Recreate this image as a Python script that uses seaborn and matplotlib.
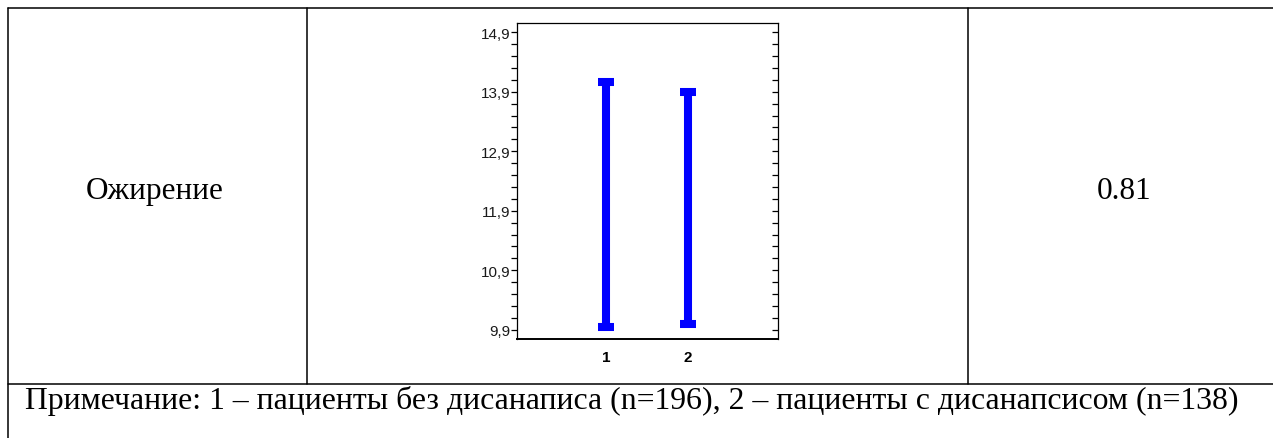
import numpy as np
import pandas as pd
import matplotlib
matplotlib.use("Agg")
import matplotlib.pyplot as plt
import seaborn as sns
from matplotlib.lines import Line2D
from matplotlib.ticker import FixedLocator, FuncFormatter

# ---- data ----
groups = ["1", "2"]
ci_low = [9.94, 10.00]
ci_high = [14.07, 13.90]
row_label = "Ожирение"
p_value = "0.81"
note = "Примечание: 1 – пациенты без дисанаписа (n=196), 2 – пациенты с дисанапсисом (n=138)"
y_ticks = [9.9, 10.9, 11.9, 12.9, 13.9, 14.9]

sns.set_theme(style="white")
plt.rcParams["font.family"] = ["Liberation Sans", "DejaVu Sans"]

W, H, DPI = 1273, 439, 100
fig = plt.figure(figsize=(W / DPI, H / DPI), dpi=DPI)
fig.patch.set_facecolor("white")

def fx(px):
    return px / W

def fy(py):
    return 1 - py / H

# long-form data: the two interval ends per group
df = pd.DataFrame({
    "group": np.repeat(groups, 2),
    "value": np.ravel(np.column_stack([ci_low, ci_high])),
})

ax_l, ax_r, ax_t, ax_b = 517, 778, 24, 340
ax = fig.add_axes([fx(ax_l), fy(ax_b), fx(ax_r - ax_l), (ax_b - ax_t) / H])

sns.pointplot(
    data=df, x="group", y="value", order=groups,
    estimator="mean", errorbar=lambda v: (v.min(), v.max()),
    color="#0000ff", markers="", linestyles="none", capsize=0.2,
    err_kws={"linewidth": 5.8, "solid_capstyle": "butt"}, ax=ax,
)

ax.set_xlim(-1.09, 2.10)
ax.set_ylim(9.745, 15.055)
ax.set_xlabel("")
ax.set_ylabel("")

minor_ticks = [t + d for t in y_ticks[:-1] for d in (0.2, 0.4, 0.6, 0.8)]
ax.yaxis.set_major_locator(FixedLocator(y_ticks))
ax.yaxis.set_minor_locator(FixedLocator(minor_ticks))
ax.yaxis.set_major_formatter(FuncFormatter(lambda v, p: f"{v:.1f}".replace(".", ",")))
ax.tick_params(axis="y", which="both", left=True, right=False, direction="out",
               length=4, width=0.9, color="black", labelsize=11, pad=0.5,
               labelcolor="#1a1a1a")
sec = ax.secondary_yaxis("right")
sec.yaxis.set_major_locator(FixedLocator(y_ticks))
sec.yaxis.set_minor_locator(FixedLocator(minor_ticks))
sec.tick_params(axis="y", which="both", direction="in", length=4.5, width=0.9,
                labelright=False, color="black")
sec.spines["right"].set_visible(False)

ax.tick_params(axis="x", bottom=False, length=0, pad=8)
for lab in ax.get_xticklabels():
    lab.set_fontweight("bold")
    lab.set_fontsize(11)
    lab.set_color("black")

for s in ax.spines.values():
    s.set_visible(True)
    s.set_color("black")
    s.set_linewidth(0.9)
ax.spines["bottom"].set_linewidth(1.4)

# ---- table frame ----
lw = 1.1
top, mid, left = 8.5, 385, 8
vlines = [307, 968]
fig.add_artist(Line2D([fx(left), fx(W)], [fy(top), fy(top)], color="black", lw=lw))
fig.add_artist(Line2D([fx(left), fx(W)], [fy(mid), fy(mid)], color="black", lw=lw))
fig.add_artist(Line2D([fx(left), fx(left)], [fy(top), fy(H)], color="black", lw=lw))
for vx in vlines:
    fig.add_artist(Line2D([fx(vx), fx(vx)], [fy(top), fy(mid)], color="black", lw=lw))

serif = ["Liberation Serif", "DejaVu Serif"]
fig.text(fx(155), fy(199), row_label, ha="center", va="baseline",
         family=serif, fontsize=22.5, color="black")
fig.text(fx(1124), fy(199), p_value, ha="center", va="baseline",
         family=serif, fontsize=22.5, color="black")
fig.text(fx(25), fy(409), note, ha="left", va="baseline",
         family=serif, fontsize=22.9, color="black")

fig.savefig("out.png", dpi=DPI, facecolor="white")
